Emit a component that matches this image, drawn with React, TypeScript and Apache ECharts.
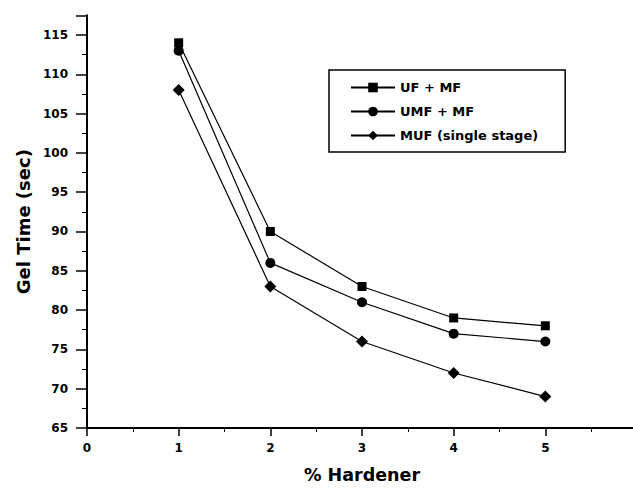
import React, { useEffect, useRef } from "react";
import * as echarts from "echarts";

const hardener = [1, 2, 3, 4, 5];
const ufMf = [114, 90, 83, 79, 78];
const umfMf = [113, 86, 81, 77, 76];
const mufSingle = [108, 83, 76, 72, 69];
const seriesNames = ["UF + MF", "UMF + MF", "MUF (single stage)"];

const FONT = "DejaVu Sans, Verdana, sans-serif";

export default function App() {
  const ref = useRef<HTMLDivElement>(null);
  useEffect(() => {
    if (!ref.current) return;
    const chart = echarts.init(ref.current, undefined, { renderer: "svg" });
    const mk = (vals: number[]) => hardener.map((x, i) => [x, vals[i]]);
    const lineStyle = { color: "#000", width: 1.2 };
    const itemStyle = { color: "#000" };
    chart.setOption({
      animation: false,
      backgroundColor: "#fff",
      textStyle: { fontFamily: FONT, color: "#000" },
      grid: { left: 87, width: 550, top: 15.3, height: 412.7, outerBoundsMode: "none", containLabel: false },
      legend: {
        orient: "vertical",
        left: 329,
        top: 70,
        itemWidth: 44,
        itemHeight: 12,
        itemGap: 11,
        padding: [11, 27, 10, 21],
        borderColor: "#000",
        borderWidth: 1.5,
        textStyle: { fontFamily: FONT, fontWeight: "bold", fontSize: 13, color: "#000" },
        data: seriesNames,
      },
      xAxis: {
        type: "value",
        min: 0,
        max: 6,
        interval: 1,
        name: "% Hardener",
        nameLocation: "middle",
        nameGap: 38,
        nameTextStyle: { fontFamily: FONT, fontWeight: "bold", fontSize: 17.5, color: "#000" },
        axisLine: { show: true, onZero: false, lineStyle: { color: "#000", width: 2 } },
        axisTick: { show: true, inside: false, length: 8, lineStyle: { color: "#000", width: 1.5 } },
        minorTick: { show: true, splitNumber: 2, length: 4, lineStyle: { color: "#000", width: 1 } },
        axisLabel: { fontFamily: FONT, fontWeight: "bold", fontSize: 12, color: "#000", margin: 14 },
        splitLine: { show: false },
      },
      yAxis: {
        type: "value",
        min: 65,
        max: 117.5,
        interval: 5,
        name: "Gel Time (sec)",
        nameLocation: "middle",
        nameGap: 53,
        nameTextStyle: { fontFamily: FONT, fontWeight: "bold", fontSize: 18, color: "#000" },
        axisLine: { show: true, lineStyle: { color: "#000", width: 2 } },
        axisTick: { show: true, inside: false, length: 11, lineStyle: { color: "#000", width: 1.5 } },
        minorTick: { show: true, splitNumber: 2, length: 5, lineStyle: { color: "#000", width: 1 } },
        axisLabel: {
          fontFamily: FONT,
          fontWeight: "bold",
          fontSize: 12,
          color: "#000",
          margin: 19,
          formatter: (v: number) => (v % 5 === 0 ? String(v) : ""),
        },
        splitLine: { show: false },
      },
      series: [
        { name: seriesNames[0], type: "line", data: mk(ufMf), symbol: "rect", symbolSize: 9, lineStyle, itemStyle },
        { name: seriesNames[1], type: "line", data: mk(umfMf), symbol: "circle", symbolSize: 10, lineStyle, itemStyle },
        { name: seriesNames[2], type: "line", data: mk(mufSingle), symbol: "diamond", symbolSize: 12, lineStyle, itemStyle },
      ],
    });
    return () => chart.dispose();
  }, []);
  return <div ref={ref} style={{ width: 633, height: 488, position: "absolute", left: 0, top: 0 }} />;
}
